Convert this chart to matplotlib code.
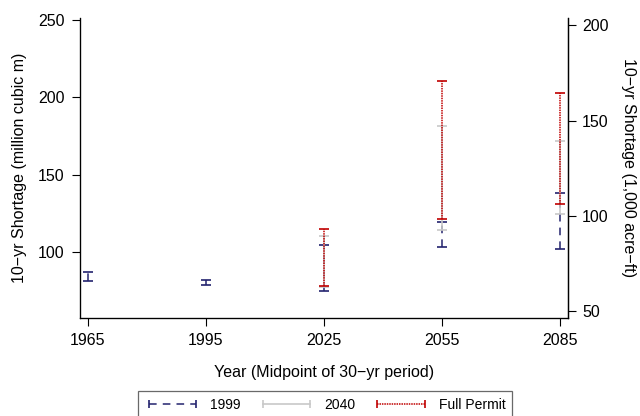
import matplotlib
matplotlib.use("Agg")
import matplotlib.pyplot as plt
from matplotlib.lines import Line2D

plt.rcParams['font.family'] = ['Liberation Sans', 'DejaVu Sans']

# Data (million cubic m)
years = [1965, 1995, 2025, 2055, 2085]
low_1999 = [81.2, 78.1, 74.7, 103.2, 101.5]
high_1999 = [86.6, 81.4, 104.5, 119.5, 138.1]

years_future = [2025, 2055, 2085]
low_2040 = [77.3, 114.3, 124.2]
high_2040 = [110.4, 181.2, 172.0]
low_full = [77.9, 121.0, 130.9]
high_full = [114.8, 210.4, 203.0]

right_ticks = [50, 100, 150, 200]
MCM_PER_KAF = 1.2335

navy = "#23236e"
gray = "#c8c8c8"
red = "#c00000"

fig = plt.figure(figsize=(6.4, 4.16), dpi=100)
ax = fig.add_axes([80 / 640, 1 - 318 / 416, 488 / 640, 300 / 416])


def draw_range(x, lo, hi, color, ls, lw, z):
    ax.vlines(x, lo, hi, colors=color, linestyles=ls, linewidth=lw, zorder=z)
    ax.plot(x, lo, ls='none', marker='_', ms=7, mew=1.2, color=color, zorder=z)
    ax.plot(x, hi, ls='none', marker='_', ms=7, mew=1.2, color=color, zorder=z)


draw_range(years, low_1999, high_1999, navy, (0, (5, 4)), 1.1, 2)
draw_range(years_future, low_2040, high_2040, gray, '-', 1.2, 3)
draw_range(years_future, low_full, high_full, red, (0, (1, 0.6)), 1.1, 4)

ax.set_xlim(1963, 2087)
ax.set_ylim(57, 251.5)
ax.set_xticks(years)
ax.set_yticks([100, 150, 200, 250])
ax.spines['top'].set_visible(False)
for s in ax.spines.values():
    s.set_linewidth(0.9)
ax.tick_params(labelsize=11.5, length=6, width=0.8, pad=5)
ax.set_xlabel("Year (Midpoint of 30\u2212yr period)", fontsize=11.5, labelpad=12)
ax.set_ylabel("10\u2212yr Shortage (million cubic m)", fontsize=11.5, labelpad=8)

ax2 = ax.twinx()
lo, hi = ax.get_ylim()
ax2.set_ylim(lo / MCM_PER_KAF, hi / MCM_PER_KAF)
ax2.set_yticks(right_ticks)
ax2.spines['top'].set_visible(False)
ax2.spines['right'].set_linewidth(0.9)
ax2.tick_params(labelsize=11.5, length=6, width=0.8, pad=4)
ax2.set_ylabel("10\u2212yr Shortage (1,000 acre\u2212ft)", fontsize=11.5,
               rotation=270, labelpad=20)

handles = [
    Line2D([], [], color=navy, ls=(0, (5, 4)), lw=1.1, marker='|', ms=6, mew=1.2),
    Line2D([], [], color=gray, ls='-', lw=1.2, marker='|', ms=6, mew=1.2),
    Line2D([], [], color=red, ls=(0, (1, 0.6)), lw=1.1, marker='|', ms=6, mew=1.2),
]
leg = fig.legend(handles, ["1999", "2040", "Full Permit"], ncol=3, numpoints=2,
                 loc='upper left', bbox_to_anchor=(138 / 640, 1 - 391 / 416),
                 borderaxespad=0, fontsize=10, handlelength=4.0, columnspacing=1.3,
                 handletextpad=0.7, borderpad=0.5, frameon=True, fancybox=False)
leg.get_frame().set_edgecolor("#444444")
leg.get_frame().set_linewidth(0.9)

fig.savefig("out.png", dpi=100)
